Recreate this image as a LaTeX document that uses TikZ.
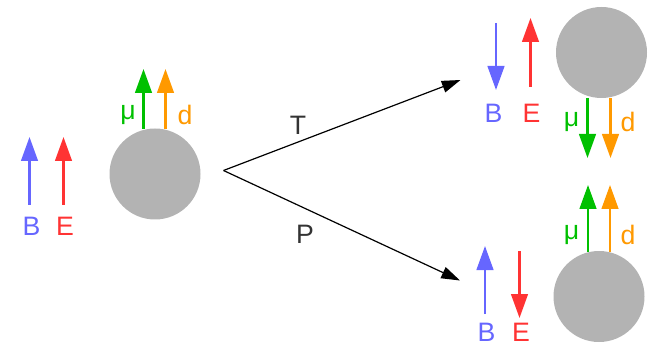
\documentclass[tikz,border=0pt]{standalone}
\usepackage{fontspec}
\setmainfont{Liberation Sans}
\usetikzlibrary{arrows.meta}
\definecolor{cB}{HTML}{6666FF}
\definecolor{cE}{HTML}{FF3333}
\definecolor{cmu}{HTML}{00C000}
\definecolor{cd}{HTML}{FF9900}
\definecolor{cball}{HTML}{B3B3B3}
\definecolor{ctxt}{HTML}{333333}
\begin{document}
\begin{tikzpicture}[x=0.75pt,y=-0.75pt,
  ball/.style={circle,fill=cball,draw=none,minimum size=91*0.75pt,inner sep=0pt},
  vec/.style={line width=1.8pt,-{Triangle[length=18pt,width=12.5pt]}},
  conn/.style={line width=0.9pt,draw=black,-{Triangle[length=14pt,width=9pt]}},
  lbl/.style={font=\fontsize{20}{22}\selectfont,inner sep=0pt}]
\useasboundingbox (0,0) rectangle (656,345);
% left
\node[ball] (b0) at (155,174) {};
\coordinate (b0mu1) at (143.5,129); \coordinate (b0mu2) at (143.5,69);
\coordinate (b0d1) at (165.5,129); \coordinate (b0d2) at (165.5,69);
\draw[vec,cmu] (b0mu1) -- (b0mu2);
\draw[vec,cd] (b0d1) -- (b0d2);
\node[lbl,text=cmu] (l0mu) at (128,115) {μ};
\node[lbl,text=cd] (l0d) at (185,115) {d};
\coordinate (B0a) at (29.5,205); \coordinate (B0b) at (29.5,137);
\coordinate (E0a) at (63.5,205); \coordinate (E0b) at (63.5,137);
\draw[vec,cB] (B0a) -- (B0b);
\draw[vec,cE] (E0a) -- (E0b);
\node[lbl,text=cB] (lB0) at (31.5,226) {B};
\node[lbl,text=cE] (lE0) at (65,226) {E};
% connectors
\coordinate (v) at (223.5,170.5);
\coordinate (tT) at (460.5,80);
\coordinate (tP) at (460,280.5);
\draw[conn] (v) -- (tT);
\draw[conn] (v) -- (tP);
\node[lbl,text=ctxt] (lT) at (298,125) {T};
\node[lbl,text=ctxt] (lP) at (305,234) {P};
% top right
\node[ball] (b1) at (601.5,52.5) {};
\coordinate (b1mu1) at (587.5,98); \coordinate (b1mu2) at (587.5,158);
\coordinate (b1d1) at (610.5,98); \coordinate (b1d2) at (610.5,158);
\draw[vec,cmu] (b1mu1) -- (b1mu2);
\draw[vec,cd] (b1d1) -- (b1d2);
\node[lbl,text=cmu] (l1mu) at (571.5,122) {μ};
\node[lbl,text=cd] (l1d) at (628,122) {d};
\coordinate (B1a) at (496,23); \coordinate (B1b) at (496,90);
\coordinate (E1a) at (530.5,87); \coordinate (E1b) at (530.5,18);
\draw[vec,cB] (B1a) -- (B1b);
\draw[vec,cE] (E1a) -- (E1b);
\node[lbl,text=cB] (lB1) at (493.5,113) {B};
\node[lbl,text=cE] (lE1) at (531.5,113) {E};
% bottom right
\node[ball] (b2) at (599,296.5) {};
\coordinate (b2mu1) at (588,252); \coordinate (b2mu2) at (588,185);
\coordinate (b2d1) at (610,252); \coordinate (b2d2) at (610,185);
\draw[vec,cmu] (b2mu1) -- (b2mu2);
\draw[vec,cd] (b2d1) -- (b2d2);
\node[lbl,text=cmu] (l2mu) at (571.5,235) {μ};
\node[lbl,text=cd] (l2d) at (628,235) {d};
\coordinate (B2a) at (485,314); \coordinate (B2b) at (485,246);
\coordinate (E2a) at (519.5,251); \coordinate (E2b) at (519.5,318);
\draw[vec,cB] (B2a) -- (B2b);
\draw[vec,cE] (E2a) -- (E2b);
\node[lbl,text=cB] (lB2) at (486.5,332) {B};
\node[lbl,text=cE] (lE2) at (521,332) {E};
\end{tikzpicture}
\end{document}
